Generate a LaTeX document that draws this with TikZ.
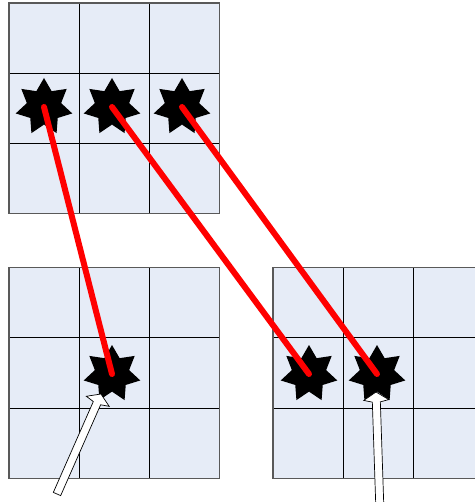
\documentclass[tikz,border=0pt]{standalone}
\usetikzlibrary{shapes.geometric,calc}
\definecolor{cellfill}{RGB}{230,236,247}
\tikzset{
  cellgrid/.style={draw=black,line width=0.8pt},
  gridframe/.style={draw=black!65,line width=1.2pt},
  blot/.style={star,star points=7,star point ratio=1.65,minimum size=58pt,inner sep=0pt,fill=black,draw=none},
  link/.style={draw=red,line width=6pt,line cap=round},
  blockarrow/.style={draw=black,fill=white,line width=0.7pt,line join=miter}
}
\begin{document}
\begin{tikzpicture}[x=1pt,y=-1pt]
\useasboundingbox (0,0) rectangle (474,502);
% grids
\foreach \gx/\gy in {9/3, 9/267.5, 273/267.5}{
  \fill[cellfill] (\gx,\gy) rectangle ++(210.6,210.6);
  \foreach \k in {1,2}{
    \draw[cellgrid] (\gx+\k*70.2,\gy) -- ++(0,210.6);
    \draw[cellgrid] (\gx,\gy+\k*70.2) -- ++(210.6,0);
  }
  \draw[gridframe] (\gx,\gy) rectangle ++(210.6,210.6);
}
% stars
\node[blot] (t1) at (44,107) {};
\node[blot] (t2) at (112,107) {};
\node[blot] (t3) at (182,107) {};
\node[blot] (b1) at (112,374) {};
\node[blot] (r1) at (309,374) {};
\node[blot] (r2) at (377,374) {};
% red links
\draw[link] (t1.center) -- (b1.center);
\draw[link] (t2.center) -- (r1.center);
\draw[link] (t3.center) -- (r2.center);
% block arrows
\coordinate (tipA) at (101,394);
\coordinate (tailA) at (57,494);
\coordinate (tipB) at (376,392);
\coordinate (tailB) at (380,512);
\foreach \tp/\tl in {tipA/tailA, tipB/tailB}{
  \draw[blockarrow]
    (\tp)
    -- ($(\tp)!8pt!(\tl)!12.5pt!90:(\tl)$)
    -- ($(\tp)!10pt!(\tl)!4pt!90:(\tl)$)
    -- ($(\tl)!4pt!-90:(\tp)$)
    -- ($(\tl)!4pt!90:(\tp)$)
    -- ($(\tp)!10pt!(\tl)!4pt!-90:(\tl)$)
    -- ($(\tp)!8pt!(\tl)!12.5pt!-90:(\tl)$)
    -- cycle;
}
\end{tikzpicture}
\end{document}
